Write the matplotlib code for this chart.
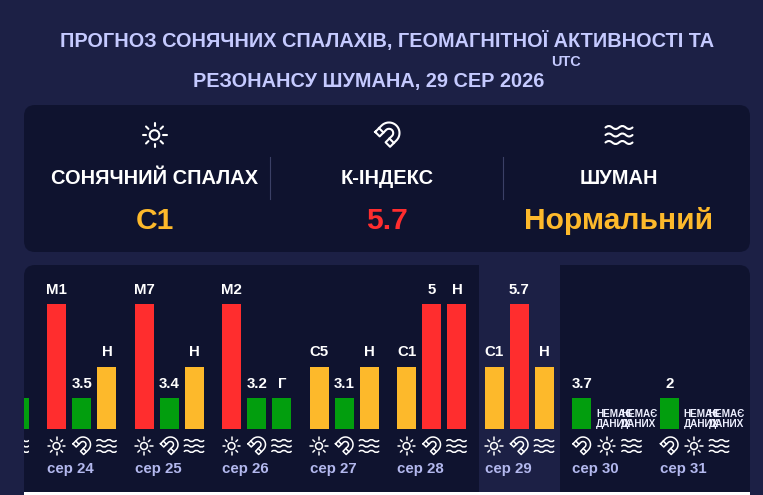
import numpy as np
import matplotlib
matplotlib.use("Agg")
import matplotlib.pyplot as plt
from matplotlib.patches import FancyBboxPatch, Rectangle, Circle, PathPatch
from matplotlib.path import Path
from matplotlib.transforms import Affine2D

plt.rcParams['font.family'] = ['Liberation Sans', 'DejaVu Sans']
plt.rcParams['font.weight'] = 'bold'

BG, PANEL, WHITE = '#1c2045', '#0f132f', '#ffffff'
RED, AMBER, GREEN = '#ff2d2e', '#fdb92b', '#029e0e'
TITLE_C, DATE_C = '#c5caff', '#b3b8ee'

title_1 = 'ПРОГНОЗ СОНЯЧНИХ СПАЛАХІВ, ГЕОМАГНІТНОЇ АКТИВНОСТІ ТА'
title_2 = 'РЕЗОНАНСУ ШУМАНА, 29 СЕР 2026'
stat_names = ['СОНЯЧНИЙ СПАЛАХ', 'К-ІНДЕКС', 'ШУМАН']
stat_values = ['C1', '5.7', 'Нормальний']
stat_colors = [AMBER, RED, AMBER]

dates = ['', 'сер 24', 'сер 25', 'сер 26', 'сер 27', 'сер 28', 'сер 29', 'сер 30', 'сер 31']
flare_labels = ['', 'M1', 'M7', 'M2', 'C5', 'C1', 'C1', None, None]
flare_levels = [0, 4, 4, 4, 2, 2, 2, None, None]
k_labels = ['', '3.5', '3.4', '3.2', '3.1', '5', '5.7', '3.7', '2']
k_levels = [0, 1, 1, 1, 1, 4, 4, 1, 1]
sch_labels = ['', 'Н', 'Н', 'Г', 'Н', 'Н', 'Н', None, None]
sch_levels = [1, 2, 2, 1, 2, 4, 2, None, None]
LEVEL_COLOR = {1: GREEN, 2: AMBER, 4: RED}

W, H = 763, 495
fig = plt.figure(figsize=(W / 100, H / 100), dpi=100, facecolor=BG)

def fs(px):
    return px * 0.72

bg = fig.add_axes([0, 0, 1, 1], zorder=0)
bg.set_xlim(0, W); bg.set_ylim(H, 0); bg.axis('off')
top = fig.add_axes([0, 0, 1, 1], zorder=5)
top.set_xlim(0, W); top.set_ylim(H, 0); top.axis('off'); top.patch.set_alpha(0)

def rounded(ax, x0, y0, x1, y1, r, color, z=1):
    ax.add_patch(FancyBboxPatch((x0 + r, y0 + r), x1 - x0 - 2 * r, y1 - y0 - 2 * r,
                                boxstyle=f'round,pad={r},rounding_size={r}',
                                fc=color, ec='none', zorder=z))

rounded(bg, 24, 105, 750, 252, 11, PANEL)
rounded(bg, 24, 265, 750, 300, 11, PANEL)
bg.add_patch(Rectangle((24, 285), 726, 207, fc=PANEL, ec='none', zorder=1))
bg.add_patch(Rectangle((479, 265), 81, 227, fc=BG, ec='none', zorder=2))
bg.add_patch(Rectangle((24, 492), 726, 3, fc=WHITE, ec='none', zorder=2))

top.text(387.5, 41.5, title_1, color=TITLE_C, fontsize=fs(19.85), ha='center', va='center')
top.text(368.5, 81.5, title_2, color=TITLE_C, fontsize=fs(19.85), ha='center', va='center')
top.text(566, 62, 'UTC', color=TITLE_C, fontsize=fs(14.5), ha='center', va='center')

for x, n, v, c in zip([155, 387, 619], stat_names, stat_values, stat_colors):
    top.text(x, 178.5, n, color=WHITE, fontsize=fs(20), ha='center', va='center')
    top.text(x, 221, v, color=c, fontsize=fs(30), ha='center', va='center')
for x in [270, 503]:
    top.plot([x, x], [157, 199], color='#3b4066', lw=0.8)

def sun(ax, cx, cy, s=1.0, lw=1.5):
    ax.add_patch(Circle((cx, cy), 4.8 * s, fc='none', ec=WHITE, lw=lw))
    for a in np.deg2rad(np.arange(0, 360, 45)):
        ax.plot([cx + 8.6 * s * np.cos(a), cx + 12 * s * np.cos(a)],
                [cy + 8.6 * s * np.sin(a), cy + 12 * s * np.sin(a)],
                color=WHITE, lw=lw, solid_capstyle='round')

def magnet(ax, cx, cy, s=1.0, lw=1.5):
    R, r, L = 10.5, 4.2, 9
    th = np.deg2rad(np.linspace(180, 360, 25))
    outer = np.c_[R * np.cos(th), R * np.sin(th)]
    inner = np.c_[r * np.cos(th), r * np.sin(th)]
    pts = np.vstack([[[-R, L]], outer, [[R, L]], [[r, L]], inner[::-1], [[-r, L]], [[-R, L]]])
    tr = Affine2D().rotate_deg(45).scale(s).translate(cx + 2 * s, cy - 2 * s)
    p = tr.transform(pts)
    ax.plot(p[:, 0], p[:, 1], color=WHITE, lw=lw, solid_joinstyle='round')
    for sx in (-1, 1):
        q = tr.transform([(sx * R, 3.6), (sx * r, 3.6)])
        ax.plot(q[:, 0], q[:, 1], color=WHITE, lw=lw)

def waves(ax, cx, cy, s=1.0, lw=1.5):
    w, a = 13.5, 1.9
    for dy in (-7.5, 0, 7.5):
        x0 = -w
        verts, codes = [(x0, dy)], [Path.MOVETO]
        step = 2 * w / 4
        for i in range(4):
            sgn = -1 if i % 2 == 0 else 1
            verts += [(x0 + step * (i + .5), dy + sgn * a * 1.6), (x0 + step * (i + 1), dy)]
            codes += [Path.CURVE3, Path.CURVE3]
        v = np.array(verts) * s + [cx, cy]
        ax.add_patch(PathPatch(Path(v, codes), fc='none', ec=WHITE, lw=lw, capstyle='round'))

sun(top, 154.5, 135)
magnet(top, 387, 135)
waves(top, 619, 135)

LEFT, RIGHT, BASE, TOPY = 24, 750, 429, 265
STEP, BAR, SLOT = 87.5, 19, 25
G1 = 47
ax = fig.add_axes([LEFT / W, 1 - BASE / H, (RIGHT - LEFT) / W, (BASE - TOPY) / H], zorder=3)
ax.patch.set_alpha(0)
ax.set_xlim((LEFT - G1) / STEP + 1, (RIGHT - G1) / STEP + 1)
ax.set_ylim(0, 4 * (BASE - TOPY) / 125)
for sp in ax.spines.values():
    sp.set_visible(False)
ax.set_yticks([])
ax.set_xticks(np.arange(1, len(dates)) + 0.4 / STEP)
ax.set_xticklabels(dates[1:], color=DATE_C, fontsize=fs(15), ha='left')
ax.tick_params(axis='x', length=0, pad=fs(33.5))

def draw_bar(g, slot, level, label):
    x = g + (BAR / 2 + SLOT * slot) / STEP
    ax.bar(x, level, width=BAR / STEP, color=LEVEL_COLOR[level], linewidth=0)
    if label and g >= 1:
        ax.annotate(label, (x + 0.4 / STEP, level), xytext=(0, fs(14)), textcoords='offset points',
                    ha='center', va='center', color=WHITE, fontsize=fs(15))

def draw_missing(g, slot):
    x = g + (SLOT * slot - 1) / STEP
    ax.annotate('НЕМАЄ\nДАНИХ', (x, 0), xytext=(0, 0), textcoords='offset points',
                ha='left', va='bottom', color='#eef0ff', fontsize=fs(10), linespacing=1.0)

for g in range(len(dates)):
    if flare_levels[g] is None:
        draw_bar(g, 0, k_levels[g], k_labels[g])
        draw_missing(g, 1)
        draw_missing(g, 2)
        order = [magnet, sun, waves]
    else:
        if flare_levels[g]:
            draw_bar(g, 0, flare_levels[g], flare_labels[g])
        if k_levels[g]:
            draw_bar(g, 1, k_levels[g], k_labels[g])
        draw_bar(g, 2, sch_levels[g], sch_labels[g])
        order = [sun, magnet, waves]
    px0 = G1 + STEP * (g - 1)
    for s, fn in enumerate(order):
        cx = px0 + BAR / 2 + SLOT * s
        if cx > 28:
            fn(top, cx, 446, s=0.72, lw=1.1)

waves_clip = top.add_patch(Rectangle((24, 436), 5, 20, fc='none', ec='none'))
n = len(top.patches)
waves(top, G1 - STEP + BAR / 2 + SLOT * 2, 446, s=0.72, lw=1.1)
for p in top.patches[n:]:
    p.set_clip_path(waves_clip)

fig.savefig('out.png', dpi=100, facecolor=BG)
